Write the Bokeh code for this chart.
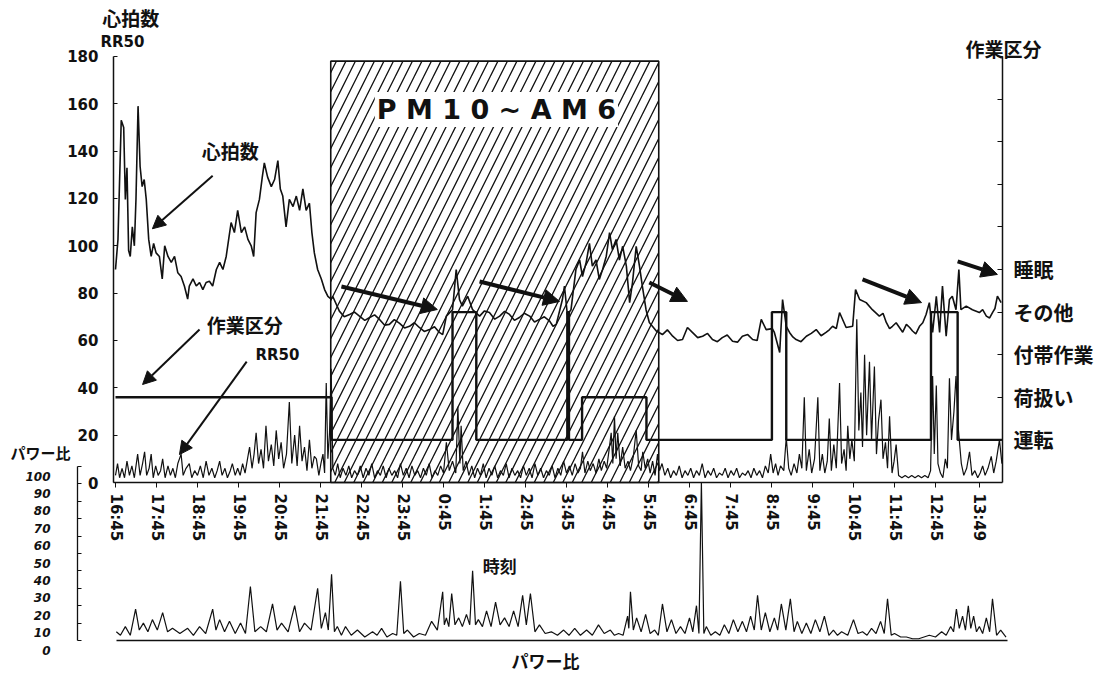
from bokeh.plotting import figure
from bokeh.models import Range1d, LinearAxis, FixedTicker, Label, Arrow, NormalHead
from bokeh.embed import file_html
from bokeh.resources import INLINE

# ---------------- data (hours since 16:45) ----------------
time_labels = ["16:45", "17:45", "18:45", "19:45", "20:45", "21:45", "22:45", "23:45",
               "0:45", "1:45", "2:45", "3:45", "4:45", "5:45", "6:45", "7:45", "8:45",
               "9:45", "10:45", "11:45", "12:45", "13:49"]
hr_ticks = [0, 20, 40, 60, 80, 100, 120, 140, 160, 180]
power_ticks = [0, 10, 20, 30, 40, 50, 60, 70, 80, 90, 100]
work_labels = ["運転", "荷扱い", "付帯作業", "その他", "睡眠"]
night_period = ["22:00", "6:00"]
night_top = 178

hr_time = [0.00, 0.06, 0.14, 0.20, 0.24, 0.28, 0.32, 0.36, 0.41, 0.46,
           0.50, 0.55, 0.60, 0.65, 0.70, 0.75, 0.81, 0.87, 0.93, 0.99,
           1.07, 1.14, 1.20, 1.28, 1.36, 1.44, 1.52, 1.60, 1.68, 1.76,
           1.80, 1.89, 1.97, 2.05, 2.13, 2.21, 2.29, 2.37, 2.46, 2.54,
           2.62, 2.70, 2.76, 2.82, 2.90, 2.98, 3.07, 3.15, 3.23, 3.31,
           3.37, 3.43, 3.51, 3.58, 3.63, 3.71, 3.80, 3.88, 3.96, 4.02,
           4.08, 4.16, 4.24, 4.33, 4.41, 4.49, 4.57, 4.65, 4.73, 4.79,
           4.85, 4.93, 5.02, 5.10, 5.18, 5.26, 5.30,
           5.46, 5.71, 5.95, 6.20, 6.44, 6.68, 6.93, 7.17, 7.41, 7.66,
           7.90, 8.07, 8.22, 8.31, 8.39, 8.46, 8.59, 8.71, 8.88, 9.12,
           9.37, 9.61, 9.85, 10.10, 10.34, 10.59, 10.75, 10.90, 10.95, 11.02,
           11.11, 11.23, 11.32, 11.39, 11.48, 11.56, 11.63, 11.72, 11.80, 11.88,
           11.97, 12.05, 12.12, 12.21, 12.29, 12.37, 12.46, 12.54, 12.61, 12.70,
           12.78, 12.85, 12.94, 13.02, 13.19, 13.34, 13.59, 13.83, 13.95, 14.07,
           14.32, 14.56, 14.80, 15.05, 15.29, 15.54, 15.75, 15.87, 16.02, 16.07,
           16.20, 16.27, 16.36, 16.44, 16.60, 16.85, 17.09, 17.33, 17.49, 17.66,
           17.82, 17.98, 18.05, 18.15, 18.31, 18.46, 18.63, 18.80, 18.95, 19.12,
           19.29, 19.44, 19.61, 19.77, 19.85, 19.93, 20.02, 20.10, 20.17, 20.26,
           20.34, 20.41, 20.50, 20.57, 20.62, 20.75, 20.90, 21.07, 21.24, 21.39,
           21.51, 21.60]
hr_value = [90, 102.6, 153, 150, 119.6, 133, 98, 95.5, 108, 100,
            120, 159, 133.5, 125, 128, 119.6, 102.7, 95.5, 101, 97,
            95.5, 86, 100, 95.5, 93, 95.5, 88.6, 87, 83, 77.5,
            83, 86, 83, 84.5, 81.5, 84.5, 85, 83, 90, 93,
            90, 95.5, 102.7, 109.8, 105.6, 115, 105.6, 108, 102.7, 100,
            95.5, 114, 119.6, 129, 135, 129, 125, 128, 136, 124,
            121, 108, 119.6, 116.6, 121, 115, 124, 115, 118, 105.6,
            97, 90, 86, 81.5, 78.6, 77.5, 78.6,
            72.4, 71, 70.3, 69.7, 68.9, 66.8, 67.2, 66, 65.5, 64.6,
            63.4, 70.3, 73, 90, 77.3, 74.5, 78.7, 73, 70.3, 71.8,
            70.3, 71, 69.7, 70.3, 68.9, 68.2, 66.8, 77.3, 83, 71,
            73, 90, 94, 87, 93, 101, 91.4, 94, 85.8, 90,
            95.6, 105.6, 98.4, 102.7, 94, 99.8, 91.4, 76, 84.5, 99.8,
            91.4, 83, 73, 67.6, 64, 62.5, 61.8, 60.4, 65.5, 63.4,
            61.8, 60.4, 61.2, 59.7, 61.8, 60.4, 68.9, 64.6, 65, 63.4,
            54.9, 77.3, 66, 63.4, 60.4, 61.8, 64.6, 63.4, 66, 71.8,
            65.5, 66, 81.5, 77.3, 76, 73, 70.3, 67.6, 66, 65.5,
            66.8, 64, 66, 71, 76, 63.4, 78.7, 63.4, 83, 61.8,
            77.3, 78.7, 73, 90, 73, 74.5, 73, 71.8, 70.3, 71.8,
            78.7, 76]
# finer wiggles read between the main readings
hr_detail_points = [
    (5.58, 70.0), (5.83, 72.0), (6.08, 68.5), (6.32, 70.8), (6.56, 66.5), (6.80, 68.8),
    (7.05, 65.3), (7.29, 67.5), (7.53, 63.8), (7.78, 65.8), (7.98, 62.5),
    (9.00, 72.5), (9.25, 69.0), (9.49, 72.3), (9.73, 68.5), (9.97, 71.5), (10.22, 67.8),
    (10.46, 70.0), (10.67, 66.0),
    (13.46, 64.5), (13.71, 60.0), (14.20, 61.2), (14.44, 63.0), (14.68, 59.5), (14.92, 62.3),
    (15.17, 59.3), (15.42, 62.5), (15.65, 60.0),
    (16.52, 61.5), (16.72, 59.5), (16.97, 63.0), (17.21, 62.0), (17.41, 64.5), (17.58, 65.0),
    (18.72, 71.5), (18.88, 65.0), (19.04, 67.5), (19.20, 63.5), (19.37, 65.5), (19.52, 62.8),
    (19.69, 67.5), (21.15, 73.0), (21.32, 69.5), (21.45, 73.5)]

rr50_points = [
    (0.00, 3), (0.05, 8), (0.10, 2), (0.16, 6), (0.22, 2), (0.28, 9), (0.34, 3), (0.40, 7),
    (0.46, 2), (0.54, 12), (0.60, 3), (0.66, 8), (0.71, 13), (0.76, 3), (0.82, 6), (0.87, 12),
    (0.92, 2), (0.98, 7), (1.04, 3), (1.10, 5), (1.15, 10), (1.21, 2), (1.28, 7), (1.34, 3),
    (1.40, 6), (1.46, 2), (1.52, 8), (1.60, 12), (1.65, 3), (1.72, 6), (1.80, 8), (1.86, 2),
    (1.93, 5), (2.00, 3), (2.07, 7), (2.14, 2), (2.21, 9), (2.28, 3), (2.35, 6), (2.42, 2),
    (2.48, 5), (2.54, 9), (2.60, 3), (2.67, 6), (2.73, 2), (2.80, 5), (2.85, 8), (2.92, 3),
    (2.98, 6), (3.04, 3), (3.10, 8), (3.16, 4), (3.22, 10), (3.27, 15), (3.33, 6), (3.38, 12),
    (3.43, 21), (3.49, 8), (3.55, 14), (3.61, 6), (3.67, 24), (3.73, 9), (3.80, 16), (3.86, 7),
    (3.92, 22), (3.98, 10), (4.04, 17), (4.10, 6), (4.17, 12), (4.24, 34), (4.30, 8), (4.37, 20),
    (4.43, 7), (4.49, 24), (4.55, 9), (4.61, 15), (4.67, 5), (4.73, 18), (4.79, 6), (4.85, 11),
    (4.90, 10), (4.96, 3), (5.01, 8), (5.06, 12), (5.10, 4), (5.14, 42), (5.18, 10), (5.22, 21),
    (5.26, 48), (5.30, 6), (5.36, 3), (5.42, 8), (5.48, 2), (5.55, 6), (5.62, 3), (5.69, 7),
    (5.76, 2), (5.83, 5), (5.90, 3), (5.97, 7), (6.04, 2), (6.11, 6), (6.18, 3), (6.25, 8),
    (6.32, 2), (6.39, 5), (6.46, 3), (6.53, 7), (6.60, 2), (6.67, 6), (6.74, 3), (6.81, 5),
    (6.88, 2), (6.95, 8), (7.02, 3), (7.09, 6), (7.16, 2), (7.23, 7), (7.30, 3), (7.37, 5),
    (7.44, 2), (7.51, 6), (7.58, 3), (7.65, 8), (7.72, 2), (7.79, 5), (7.86, 3), (7.93, 7),
    (8.00, 4), (8.07, 17), (8.14, 5), (8.22, 9), (8.30, 4), (8.35, 32), (8.40, 8), (8.43, 24),
    (8.48, 5), (8.55, 9), (8.62, 3), (8.69, 7), (8.76, 2), (8.83, 6), (8.90, 3), (8.97, 8),
    (9.04, 2), (9.11, 6), (9.18, 3), (9.25, 7), (9.32, 2), (9.39, 5), (9.46, 3), (9.53, 8),
    (9.60, 2), (9.67, 6), (9.74, 3), (9.81, 5), (9.88, 2), (9.95, 7), (10.02, 3), (10.09, 6),
    (10.16, 2), (10.23, 8), (10.30, 3), (10.37, 6), (10.44, 2), (10.51, 5), (10.58, 3), (10.65, 7),
    (10.72, 2), (10.79, 6), (10.86, 3), (10.93, 9), (11.00, 4), (11.07, 7), (11.14, 3), (11.21, 8),
    (11.28, 4), (11.34, 6), (11.39, 13), (11.45, 4), (11.52, 9), (11.58, 5), (11.65, 8), (11.72, 4),
    (11.79, 10), (11.85, 5), (11.92, 9), (11.98, 6), (12.04, 14), (12.09, 21), (12.13, 8), (12.17, 28),
    (12.21, 10), (12.25, 21), (12.31, 7), (12.37, 15), (12.43, 6), (12.50, 9), (12.56, 5), (12.63, 11),
    (12.70, 22), (12.76, 7), (12.82, 5), (12.86, 13), (12.92, 6), (12.98, 10), (13.04, 4), (13.10, 9),
    (13.16, 3), (13.22, 12), (13.27, 5), (13.33, 8), (13.40, 3), (13.47, 6), (13.54, 2), (13.61, 5),
    (13.68, 3), (13.75, 7), (13.82, 2), (13.89, 5), (13.96, 3), (14.03, 6), (14.10, 2), (14.17, 5),
    (14.24, 3), (14.31, 8), (14.38, 2), (14.45, 5), (14.52, 3), (14.59, 6), (14.66, 2), (14.73, 4),
    (14.80, 3), (14.87, 6), (14.94, 2), (15.01, 5), (15.08, 3), (15.15, 6), (15.22, 2), (15.29, 4),
    (15.36, 3), (15.43, 5), (15.50, 2), (15.57, 6), (15.64, 3), (15.71, 5), (15.78, 2), (15.85, 7),
    (15.92, 4), (15.98, 12), (16.04, 4), (16.10, 8), (16.16, 3), (16.22, 7), (16.30, 5), (16.36, 19),
    (16.42, 6), (16.48, 3), (16.55, 8), (16.62, 4), (16.68, 12), (16.74, 6), (16.80, 36), (16.85, 5),
    (16.92, 14), (16.98, 4), (17.05, 10), (17.13, 36), (17.18, 5), (17.24, 12), (17.30, 4), (17.36, 9),
    (17.41, 27), (17.46, 5), (17.52, 16), (17.58, 6), (17.66, 42), (17.71, 8), (17.77, 14), (17.82, 5),
    (17.86, 24), (17.91, 10), (17.96, 18), (18.02, 9), (18.08, 69), (18.13, 22), (18.18, 38), (18.22, 15),
    (18.27, 54), (18.32, 20), (18.39, 51), (18.44, 18), (18.51, 49), (18.56, 12), (18.61, 26), (18.67, 35),
    (18.72, 10), (18.78, 17), (18.83, 6), (18.88, 28), (18.94, 4), (18.99, 9), (19.04, 16), (19.10, 3),
    (19.18, 2), (19.26, 3), (19.34, 2), (19.42, 3), (19.50, 2), (19.58, 3), (19.66, 2), (19.74, 3),
    (19.82, 2), (19.88, 5), (19.93, 45), (19.97, 12), (20.02, 41), (20.06, 8), (20.12, 4), (20.18, 2),
    (20.24, 10), (20.29, 6), (20.34, 44), (20.39, 18), (20.45, 30), (20.50, 45), (20.56, 22), (20.63, 8),
    (20.69, 3), (20.76, 6), (20.83, 13), (20.89, 3), (20.96, 5), (21.03, 2), (21.09, 4), (21.15, 7),
    (21.21, 3), (21.28, 6), (21.36, 11), (21.42, 4), (21.48, 9), (21.56, 18), (21.62, 8)]

power_points = [
    (0.02, 5), (0.12, 3), (0.24, 8), (0.36, 3), (0.49, 18), (0.58, 6), (0.68, 10), (0.79, 5),
    (0.90, 12), (1.02, 6), (1.15, 16), (1.27, 5), (1.39, 7), (1.57, 4), (1.76, 7), (1.90, 3),
    (2.05, 8), (2.20, 4), (2.37, 18), (2.45, 6), (2.54, 12), (2.66, 5), (2.78, 11), (2.92, 4),
    (3.05, 10), (3.17, 4), (3.29, 31), (3.40, 5), (3.54, 8), (3.68, 5), (3.83, 21), (3.94, 6),
    (4.05, 10), (4.21, 5), (4.37, 20), (4.49, 5), (4.61, 10), (4.77, 6), (4.93, 30), (5.02, 7),
    (5.12, 16), (5.19, 6), (5.27, 38), (5.34, 5), (5.41, 8), (5.51, 3), (5.61, 8), (5.75, 3),
    (5.90, 6), (6.08, 2), (6.27, 5), (6.38, 3), (6.49, 7), (6.62, 2), (6.76, 4), (6.86, 3),
    (6.95, 34), (7.03, 4), (7.12, 6), (7.27, 2), (7.41, 4), (7.56, 3), (7.71, 11), (7.85, 6),
    (7.98, 28), (8.02, 9), (8.07, 13), (8.13, 8), (8.20, 27), (8.28, 9), (8.37, 13), (8.46, 8),
    (8.56, 15), (8.64, 9), (8.71, 40), (8.78, 9), (8.85, 12), (8.95, 8), (9.05, 17), (9.16, 8),
    (9.27, 22), (9.38, 9), (9.49, 13), (9.60, 8), (9.71, 17), (9.82, 8), (9.93, 26), (10.02, 9),
    (10.12, 27), (10.23, 5), (10.34, 9), (10.48, 4), (10.63, 5), (10.78, 3), (10.93, 6), (11.06, 3),
    (11.20, 7), (11.34, 3), (11.49, 6), (11.63, 3), (11.78, 9), (11.92, 4), (12.07, 6), (12.17, 3),
    (12.27, 4), (12.38, 3), (12.49, 14), (12.52, 7), (12.56, 28), (12.63, 6), (12.71, 13), (12.82, 5),
    (12.93, 15), (13.04, 4), (13.15, 6), (13.24, 3), (13.34, 21), (13.45, 5), (13.56, 12), (13.67, 4),
    (13.78, 8), (13.89, 4), (14.00, 13), (14.08, 5), (14.17, 20), (14.23, 4), (14.29, 91), (14.35, 4),
    (14.41, 8), (14.52, 3), (14.63, 5), (14.74, 3), (14.85, 9), (14.96, 4), (15.07, 12), (15.18, 5),
    (15.29, 11), (15.39, 5), (15.49, 14), (15.58, 6), (15.66, 26), (15.75, 6), (15.85, 16), (15.96, 5),
    (16.07, 13), (16.15, 6), (16.24, 21), (16.35, 6), (16.46, 24), (16.55, 5), (16.63, 11), (16.74, 4),
    (16.85, 10), (16.96, 4), (17.07, 12), (17.18, 5), (17.29, 14), (17.40, 3), (17.51, 6), (17.61, 3),
    (17.71, 5), (17.86, 3), (18.00, 12), (18.11, 4), (18.22, 5), (18.33, 3), (18.44, 7), (18.55, 4),
    (18.66, 11), (18.75, 4), (18.83, 24), (18.92, 3), (19.00, 4), (19.15, 2), (19.29, 2), (19.44, 1),
    (19.59, 1), (19.72, 2), (19.85, 3), (20.00, 2), (20.15, 5), (20.26, 3), (20.37, 8), (20.44, 5),
    (20.51, 18), (20.58, 7), (20.66, 14), (20.73, 6), (20.80, 20), (20.86, 7), (20.93, 14), (21.00, 5),
    (21.07, 8), (21.15, 4), (21.24, 13), (21.32, 5), (21.39, 24), (21.49, 3), (21.59, 6), (21.72, 2)]

# work category steps: (start hour, level index on right axis)
work_steps = [(0.0, 2), (5.27, 1), (8.22, 4), (8.80, 1), (11.02, 4), (11.06, 1), (11.38, 2),
              (12.95, 1), (16.01, 4), (16.36, 1), (19.89, 4), (20.54, 1), (21.62, 1)]


def hours(label):
    h, m = map(int, label.split(":"))
    return ((h * 60 + m) - (16 * 60 + 45)) % (24 * 60) / 60.0


# ---------------- geometry (page pixels -> data) ----------------
W, H = 1110, 676
OFF = 1                 # figure origin on page
PX_X0, PX_PER_H = 116, 41.0        # 16:45 position, px per hour
PX_HR0, PX_PER_HR = 483, 2.367     # heart-rate 0 position, px per unit
PX_PW0, PX_PER_PW = 641, 1.74      # power 0 position, px per unit
LABEL_SHIFT = 9.5                  # power tick labels sit a bit below their ticks

X0 = (OFF - PX_X0) / PX_PER_H
X1 = (OFF + W - PX_X0) / PX_PER_H
Y1 = (PX_HR0 - OFF) / PX_PER_HR
Y0 = (PX_HR0 - OFF - H) / PX_PER_HR
P1 = (PX_PW0 - OFF) / PX_PER_PW
P0 = (PX_PW0 - OFF - H) / PX_PER_PW
S = LABEL_SHIFT / PX_PER_PW
x_pw_axis = (78 - PX_X0) / PX_PER_H
x_right_axis = (1003 - PX_X0) / PX_PER_H

NUM = "DejaVu Sans"
CJK = "Noto Sans CJK JP"
BLACK = "#111111"

p = figure(width=W, height=H, output_backend="svg", toolbar_location=None,
           x_range=Range1d(X0, X1), y_range=Range1d(Y0, Y1),
           x_axis_type=None, y_axis_type=None,
           min_border_left=0, min_border_right=0, min_border_top=0, min_border_bottom=0)
p.outline_line_color = None
p.background_fill_color = "white"
p.border_fill_color = "white"
p.extra_y_ranges = {"work": Range1d(Y0 / 18.0, Y1 / 18.0),
                    "pw": Range1d(P0, P1),
                    "pwlab": Range1d(P0 + S, P1 + S)}

common = dict(minor_tick_line_color=None, axis_line_color=BLACK, major_tick_line_color=BLACK,
              major_label_text_color=BLACK)

# power ratio axis: line + ticks
pa = LinearAxis(y_range_name="pw", fixed_location=x_pw_axis, bounds=(0, 100),
                ticker=FixedTicker(ticks=power_ticks), major_tick_in=4, major_tick_out=0,
                major_label_text_alpha=0, axis_line_width=1.3, **common)
p.add_layout(pa, "left")
# power ratio axis: labels
pl = LinearAxis(y_range_name="pwlab", fixed_location=x_pw_axis,
                ticker=FixedTicker(ticks=power_ticks), major_tick_in=0, major_tick_out=0,
                axis_line_color=None, major_tick_line_color=None, minor_tick_line_color=None,
                major_label_standoff=27, major_label_text_font=NUM,
                major_label_text_font_style="bold italic", major_label_text_font_size="12px",
                major_label_text_color=BLACK)
p.add_layout(pl, "left")

# heart rate / RR50 axis
ya = LinearAxis(fixed_location=-0.05, bounds=(0, 180), ticker=FixedTicker(ticks=hr_ticks),
                major_tick_in=4, major_tick_out=0, major_label_standoff=15,
                major_label_text_font=NUM, major_label_text_font_style="bold",
                major_label_text_font_size="15px", axis_line_width=1.5, **common)
p.add_layout(ya, "left")

# work category axis (right)
work_ticks = list(range(1, 11))
work_over = {t: (work_labels[t - 1] if t <= len(work_labels) else "") for t in work_ticks}
ra = LinearAxis(y_range_name="work", fixed_location=x_right_axis, bounds=(0, 10),
                ticker=FixedTicker(ticks=work_ticks), major_label_overrides=work_over,
                major_tick_in=5, major_tick_out=0, major_label_standoff=11,
                major_label_text_font=CJK, major_label_text_font_style="bold",
                major_label_text_font_size="20px", axis_line_width=1.5, **common)
p.add_layout(ra, "right")

# power ratio baseline
ba = LinearAxis(y_range_name="pw", fixed_location=0, bounds=(0.02, (1008 - PX_X0) / PX_PER_H),
                ticker=FixedTicker(ticks=[]), major_tick_out=0, major_tick_in=0,
                axis_line_width=1.5, **common)
p.add_layout(ba, "below")

# time axis at heart-rate 0
time_ticks = [hours(s) for s in time_labels]
ta = LinearAxis(fixed_location=0, bounds=(-0.05, x_right_axis), ticker=FixedTicker(ticks=time_ticks),
                major_label_overrides={t: s for t, s in zip(time_ticks, time_labels)},
                major_label_orientation="vertical", major_tick_out=5, major_tick_in=0,
                major_label_standoff=6, major_label_text_font=NUM,
                major_label_text_font_style="bold", major_label_text_font_size="15px",
                axis_line_width=1.5, **common)
p.add_layout(ta, "below")

# night period box
n0, n1 = hours(night_period[0]), hours(night_period[1])
p.quad(left=[n0], right=[n1], bottom=[0], top=[night_top], fill_color=None,
       hatch_pattern="/", hatch_color=BLACK, hatch_scale=19, hatch_weight=1.3,
       line_color=BLACK, line_width=1.6)

# series
rr_t = [a for a, b in rr50_points]
rr_v = [b for a, b in rr50_points]
p.line(rr_t, rr_v, line_color=BLACK, line_width=1.2)

pw_t = [a for a, b in power_points]
pw_v = [b for a, b in power_points]
p.line(pw_t, pw_v, line_color=BLACK, line_width=1.2, y_range_name="pw")

wk_t = [a for a, b in work_steps]
wk_v = [b for a, b in work_steps]
p.step(wk_t, wk_v, mode="after", line_color=BLACK, line_width=2.4, y_range_name="work")

hr_all = sorted(list(zip(hr_time, hr_value)) + hr_detail_points)
p.line([a for a, b in hr_all], [b for a, b in hr_all], line_color=BLACK, line_width=1.6)


# ---------------- annotations ----------------
def lab(x, y, text, size, font=CJK, style="bold", align="center"):
    p.add_layout(Label(x=x, y=y, text=text, text_font=font, text_font_style=style,
                       text_font_size=size, text_align=align, text_baseline="middle",
                       text_color=BLACK))


lab(0.37, 196.5, "心拍数", "19px")
lab(0.17, 186.3, "RR50", "15px", font=NUM)
lab(21.66, 183.4, "作業区分", "19px")
lab(-1.83, 12.7, "パワー比", "15px")
lab(9.37, -35.1, "時刻", "17px")
lab(10.49, -75.2, "パワー比", "17px")
lab(2.80, 140.3, "心拍数", "19px")
lab(3.15, 66.8, "作業区分", "19px")
lab(3.95, 53.7, "RR50", "15px", font=NUM)

p.add_layout(Label(x=9.29, y=157.6, text="P M 1 0 ~ A M 6", text_font=NUM,
                   text_font_style="bold", text_font_size="27px", text_align="center",
                   text_baseline="middle", text_color=BLACK,
                   background_fill_color="white", padding=2))

thick_arrows = [((5.51, 82.8), (7.85, 73.1)), ((8.88, 84.9), (10.83, 76.5)),
                ((13.02, 84.5), (13.95, 76.5)), ((18.22, 85.8), (19.66, 76.0)),
                ((20.54, 93.4), (21.51, 87.9))]
for (xs, ys), (xe, ye) in thick_arrows:
    p.add_layout(Arrow(end=NormalHead(size=16, fill_color=BLACK, line_color=BLACK),
                       x_start=xs, y_start=ys, x_end=xe, y_end=ye,
                       line_width=4, line_color=BLACK))

thin_arrows = [((2.37, 129.6), (0.90, 107.2)), ((2.05, 64.6), (0.66, 41.4)),
               ((3.20, 51.1), (1.56, 11.8))]
for (xs, ys), (xe, ye) in thin_arrows:
    p.add_layout(Arrow(end=NormalHead(size=13, fill_color=BLACK, line_color=BLACK),
                       x_start=xs, y_start=ys, x_end=xe, y_end=ye,
                       line_width=2, line_color=BLACK))

open("out.html", "w").write(file_html(p, INLINE))
